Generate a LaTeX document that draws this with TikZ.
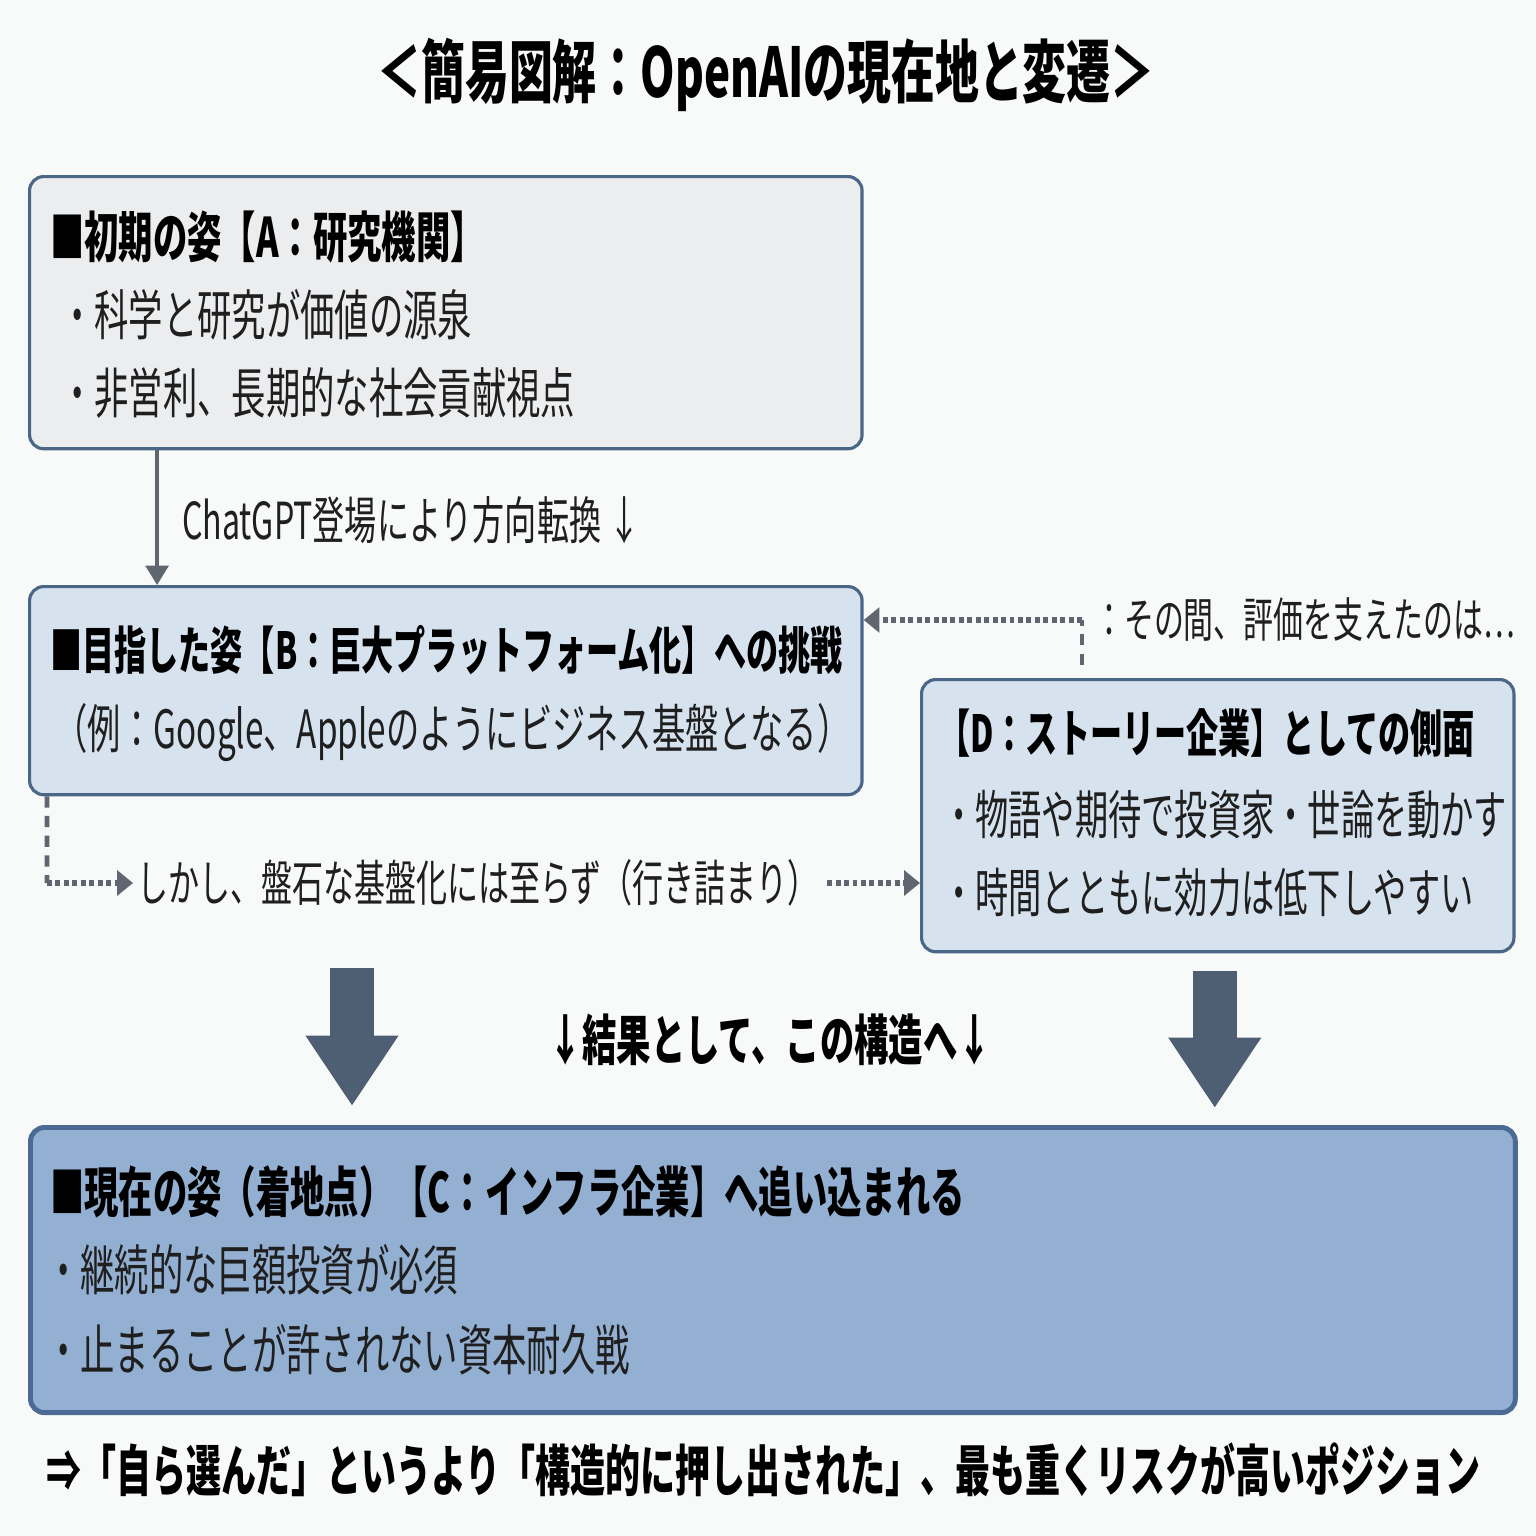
\documentclass[tikz,border=0pt]{standalone}
\usepackage{fontspec}
\usetikzlibrary{arrows.meta,positioning}
\newfontfamily\jpfont[FakeStretch=0.63]{Noto Sans CJK JP}
\newfontfamily\jptitle[FakeStretch=0.64]{Noto Sans CJK JP}
\definecolor{bgcol}{HTML}{F8F9F9}
\definecolor{boxline}{HTML}{4A6788}
\definecolor{boxgray}{HTML}{ECEDEF}
\definecolor{boxblue}{HTML}{D6E3EF}
\definecolor{boxdeep}{HTML}{93B0D2}
\definecolor{deepline}{HTML}{4B6B94}
\definecolor{linegray}{HTML}{5F6670}
\definecolor{arrowcol}{HTML}{4E5E73}
\tikzset{
  box/.style={draw=boxline, line width=0.9pt, rounded corners=4pt, anchor=north west, inner sep=0pt},
  head/.style={anchor=west, inner sep=1pt, text=black, font=\jpfont\bfseries\fontsize{15.5}{18}\selectfont},
  body/.style={anchor=west, inner sep=1pt, text=black!88, font=\jpfont\fontsize{15.5}{18}\selectfont},
  note/.style={anchor=west, inner sep=1pt, text=black!88, font=\jpfont\fontsize{14}{16}\selectfont},
  flow/.style={draw=linegray, line width=0.9pt, -{Triangle[length=5.5pt,width=6.5pt]}},
  dotline/.style={draw=linegray, line width=1.9pt, dash pattern=on 1.4pt off 1pt},
  dashline/.style={draw=linegray, line width=1.3pt, dash pattern=on 3.2pt off 2.4pt},
  dottip/.style={-{Triangle[length=4.5pt,width=7pt]}},
  bigarrow/.style={draw=arrowcol, line width=12.5pt, -{Triangle[length=20pt,width=25pt]}}
}
\begin{document}
\begin{tikzpicture}[x=0.01cm, y=-0.01cm]
    \fill[bgcol] (0,0) rectangle (1536,1536);
    \useasboundingbox (0,0) rectangle (1536,1536);

    % Title
    \node[font=\jptitle\bfseries\fontsize{19.5}{22}\selectfont] (title) at (766,75) {＜簡易図解：OpenAIの現在地と変遷＞};

    % Box A: early form
    \node[box, fill=boxgray, minimum width=8.32cm, minimum height=2.72cm] (boxA) at (28,175) {};
    \node[head] (headA) at (46,237) {■初期の姿【A：研究機関】};
    \node[body] (lineA1) at (56,315) {・科学と研究が価値の源泉};
    \node[body] (lineA2) at (56,393) {・非営利、長期的な社会貢献視点};

    % Box B: platform challenge
    \node[box, fill=boxblue, minimum width=8.32cm, minimum height=2.08cm] (boxB) at (28,585) {};
    \node[head, font=\jpfont\bfseries\fontsize{14.5}{18}\selectfont] (headB) at (46,650) {■目指した姿【B：巨大プラットフォーム化】への挑戦};
    \node[body, font=\jpfont\fontsize{15}{18}\selectfont] (lineB1) at (50,733) {（例：Google、Appleのようにビジネス基盤となる）};

    % Box D: story company
    \node[box, fill=boxblue, minimum width=5.92cm, minimum height=2.72cm] (boxD) at (920,678) {};
    \node[head, font=\jpfont\bfseries\fontsize{14.5}{18}\selectfont] (headD) at (934,733) {【D：ストーリー企業】としての側面};
    \node[body, font=\jpfont\fontsize{15}{18}\selectfont] (lineD1) at (938,815) {・物語や期待で投資家・世論を動かす};
    \node[body, font=\jpfont\fontsize{15}{18}\selectfont] (lineD2) at (938,893) {・時間とともに効力は低下しやすい};

    % Box C: current form
    \node[box, fill=boxdeep, draw=deepline, line width=1.4pt, minimum width=14.84cm, minimum height=2.85cm] (boxC) at (28,1125) {};
    \node[head] (headC) at (46,1192) {■現在の姿（着地点）【C：インフラ企業】へ追い込まれる};
    \node[body] (lineC1) at (42,1270) {・継続的な巨額投資が必須};
    \node[body] (lineC2) at (42,1350) {・止まることが許されない資本耐久戦};

    % Turn A -> B
    \draw[flow] ([xshift=1.29cm]boxA.south west) -- ([xshift=1.29cm]boxB.north west);
    \node[note, font=\jpfont\fontsize{14.5}{16}\selectfont] (turnLbl) at (178,520) {ChatGPT登場により方向転換 ↓};

    % Dead end B -> D
    \coordinate (stuckCorner) at (47,883);
    \node[note] (stuckLbl) at (133,883) {しかし、盤石な基盤化には至らず（行き詰まり）};
    \draw[dashline] ([xshift=0.19cm]boxB.south west) -- (stuckCorner);
    \draw[dotline, dottip] (stuckCorner) -- (stuckLbl.west);
    \draw[dotline, dottip] ([xshift=0.04cm]stuckLbl.east) -- (boxD.west |- stuckLbl.east);

    % Support D -> B
    \coordinate (supBase) at (1082,665);
    \coordinate (supCorner) at (1082,620);
    \node[note, font=\jpfont\fontsize{13.5}{16}\selectfont] (supLbl) at (1090,620) {：その間、評価を支えたのは…};
    \draw[dashline] (supBase) -- (supCorner);
    \draw[dotline, dottip] (supCorner) -- (boxB.east |- supCorner);

    % Result arrows
    \coordinate (resultL) at (352,968);
    \draw[bigarrow, shorten >=0.19cm] (resultL) -- (resultL |- boxC.north);
    \draw[bigarrow, shorten <=0.18cm, shorten >=0.17cm] ([xshift=-0.03cm]boxD.south) -- ([xshift=-0.03cm]boxD.south |- boxC.north);
    \node[head, anchor=center] (resultLbl) at (770,1040) {↓結果として、この構造へ↓};

    % Conclusion
    \node[head, font=\jpfont\bfseries\fontsize{15.8}{18}\selectfont] (conclusion) at (42,1470) {⇒「自ら選んだ」というより「構造的に押し出された」、最も重くリスクが高いポジション};
\end{tikzpicture}
\end{document}
